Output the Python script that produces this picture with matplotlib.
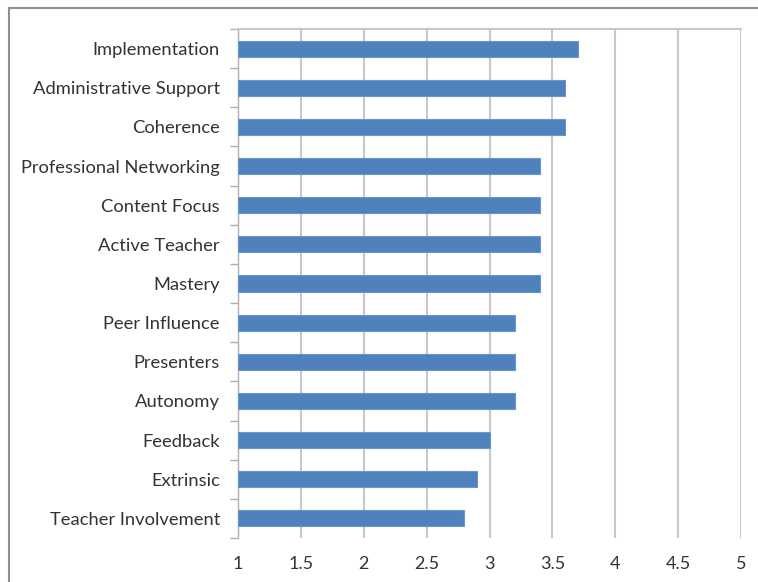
import matplotlib
matplotlib.use("Agg")
import matplotlib.pyplot as plt
from matplotlib.lines import Line2D
import numpy as np

categories = ["Implementation", "Administrative Support", "Coherence",
              "Professional Networking", "Content Focus", "Active Teacher",
              "Mastery", "Peer Influence", "Presenters", "Autonomy",
              "Feedback", "Extrinsic", "Teacher Involvement"]
values = [3.7, 3.6, 3.6, 3.4, 3.4, 3.4, 3.4, 3.2, 3.2, 3.2, 3.0, 2.9, 2.8]
xticks = [1, 1.5, 2, 2.5, 3, 3.5, 4, 4.5, 5]
xticklabels = ["1", "1.5", "2", "2.5", "3", "3.5", "4", "4.5", "5"]

plt.rcParams['font.family'] = ['Lato', 'DejaVu Sans']

fig = plt.figure(figsize=(7.58, 5.82), dpi=100)
W, H = 758, 582
ax = fig.add_axes([238 / W, 1 - 538 / H, (741 - 238) / W, (538 - 29) / H])

y = np.arange(len(categories))
ax.barh(y, np.array(values) - 1, left=1, height=0.41, color="#4f81bd",
        edgecolor="#6a96cc", linewidth=0.8, zorder=3)

ax.set_xlim(1, 5)
ax.set_ylim(len(categories) - 0.5, -0.5)
ax.set_xticks(xticks)
ax.set_xticklabels(xticklabels, fontsize=13, color="#333333")
ax.tick_params(axis="x", length=0, pad=13)
ax.set_yticks(y)
ax.set_yticklabels(categories, fontsize=13.2, color="#333333")
ax.tick_params(axis="y", which="major", length=0, pad=13)
ax.set_yticks(np.arange(-0.5, len(categories), 1), minor=True)
ax.tick_params(axis="y", which="minor", length=6, width=1, color="#b0b0b0", direction="out")

ax.grid(axis="x", color="#c8c8c8", linewidth=1.5, zorder=0)
for s in ["right", "bottom"]:
    ax.spines[s].set_visible(False)
ax.spines["left"].set_color("#b0b0b0")
ax.spines["left"].set_linewidth(1.0)
ax.spines["top"].set_color("#c8c8c8")
ax.spines["top"].set_linewidth(1.5)

# outer frame (cropped)
fig.add_artist(Line2D([9 / W, 9 / W], [0, 1 - 8 / H], transform=fig.transFigure,
                      color="#909090", linewidth=1.5))
fig.add_artist(Line2D([9 / W, 1], [1 - 8 / H, 1 - 8 / H], transform=fig.transFigure,
                      color="#909090", linewidth=1.5))

fig.savefig("out.png", dpi=100)
